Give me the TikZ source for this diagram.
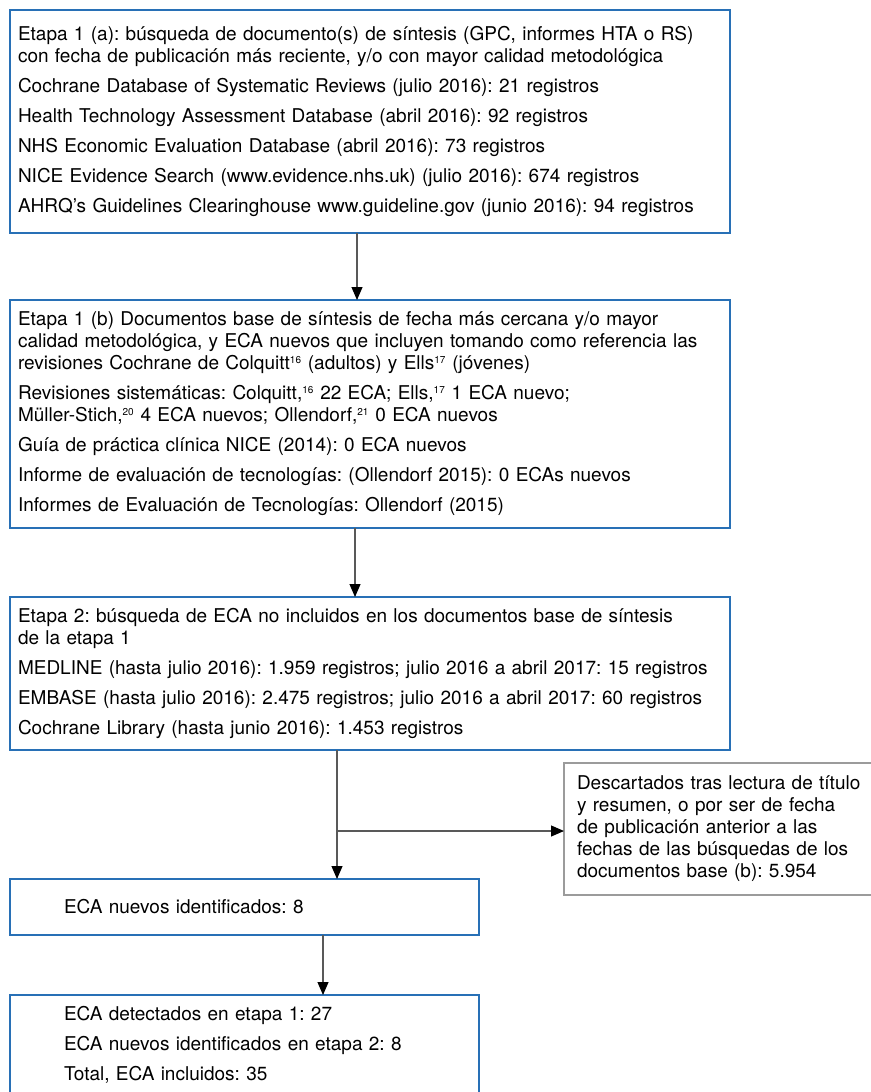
\documentclass[tikz,border=0pt]{standalone}
\usepackage{fontspec}
\setmainfont{TeX Gyre Heros}
\usepackage{xcolor}
\usepackage{tikz}
\usetikzlibrary{arrows.meta,positioning}
\definecolor{boxblue}{RGB}{40,112,182}
\definecolor{boxgray}{RGB}{155,155,155}
\newcommand{\flowfont}{\fontsize{19}{22}\selectfont\frenchspacing}
\newcommand{\itemgap}{\\[8pt]}
\newcommand{\refsup}[1]{\textsuperscript{\fontsize{10}{10}\selectfont #1}}
\tikzset{
  box/.style={draw=boxblue, line width=1.4pt, align=left, font=\flowfont,
              inner xsep=10pt, inner ysep=0pt, outer sep=0pt},
  wide/.style={box, inner xsep=8pt, text width=704pt},
  narrow/.style={box, inner xsep=54pt, text width=361pt},
  side/.style={box, draw=boxgray, inner xsep=13pt, text width=310pt},
  flow/.style={-{Triangle[length=13pt, width=11pt, color=black]}, draw=black!65,
               line width=1.1pt},
}

\begin{document}
\begin{tikzpicture}[x=1pt, y=1pt, node distance=67pt]
  \useasboundingbox (0,0) rectangle (870,-1092);
  \node[wide, anchor=north west, minimum height=223pt] (b1) at (10,-10)
    {Etapa 1 (a): búsqueda de documento(s) de síntesis (GPC, informes HTA o RS)\\
     con fecha de publicación más reciente, y/o con mayor calidad metodológica\itemgap
     Cochrane Database of Systematic Reviews (julio 2016): 21 registros\itemgap
     Health Technology Assessment Database (abril 2016): 92 registros\itemgap
     NHS Economic Evaluation Database (abril 2016): 73 registros\itemgap
     NICE Evidence Search (www.evidence.nhs.uk) (julio 2016): 674 registros\itemgap
     AHRQ's Guidelines Clearinghouse www.guideline.gov (junio 2016): 94 registros};
  \node[wide, below=67pt of b1, minimum height=228pt] (b2)
    {Etapa 1 (b) Documentos base de síntesis de fecha más cercana y/o mayor\\
     calidad metodológica, y ECA nuevos que incluyen tomando como referencia las\\
     revisiones Cochrane de Colquitt\refsup{16} (adultos) y Ells\refsup{17} (jóvenes)\itemgap
     Revisiones sistemáticas: Colquitt,\refsup{16} 22 ECA; Ells,\refsup{17} 1 ECA nuevo;\\
     Müller-Stich,\refsup{20} 4 ECA nuevos; Ollendorf,\refsup{21} 0 ECA nuevos\itemgap
     Guía de práctica clínica NICE (2014): 0 ECA nuevos\itemgap
     Informe de evaluación de tecnologías: (Ollendorf 2015): 0 ECAs nuevos\itemgap
     Informes de Evaluación de Tecnologías: Ollendorf (2015)};
  \node[wide, below=69pt of b2, minimum height=153pt] (b3)
    {Etapa 2: búsqueda de ECA no incluidos en los documentos base de síntesis\\
     de la etapa 1\itemgap
     MEDLINE (hasta julio 2016): 1.959 registros; julio 2016 a abril 2017: 15 registros\itemgap
     EMBASE (hasta julio 2016): 2.475 registros; julio 2016 a abril 2017: 60 registros\itemgap
     Cochrane Library (hasta junio 2016): 1.453 registros};
  \node[side, below right=13pt and 194pt of b3.south, minimum height=132pt] (sb)
    {Descartados tras lectura de título\\
     y resumen, o por ser de fecha\\
     de publicación anterior a las\\
     fechas de las búsquedas de los\\
     documentos base (b): 5.954};
  \node[narrow, below=129pt of b3.south west, anchor=north west, minimum height=56pt] (b4)
    {ECA nuevos identificados: 8};
  \node[narrow, below=60pt of b4, minimum height=100pt] (b5)
    {ECA detectados en etapa 1: 27\itemgap
     ECA nuevos identificados en etapa 2: 8\itemgap
     Total, ECA incluidos: 35};
  \foreach \a/\b/\s in {b1/b2/-13, b2/b3/-15, b4/b5/78.5}
    \draw[flow] ([xshift=\s pt]\a.south) -- ([xshift=\s pt]\b.north);
  \coordinate (split) at ([xshift=-33pt, yshift=-81pt]b3.south);
  \draw[flow] ([xshift=-33pt]b3.south) -- ([xshift=-33pt]b3.south |- b4.north);
  \draw[flow] (split) -- (split -| sb.west);
\end{tikzpicture}
\end{document}
